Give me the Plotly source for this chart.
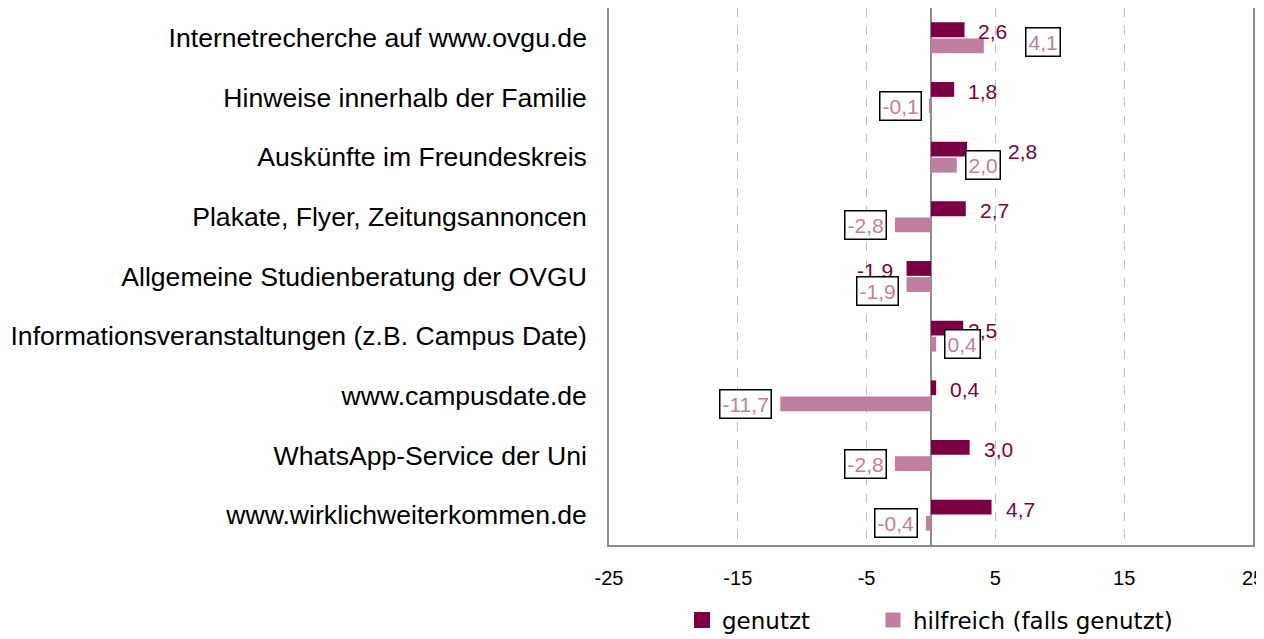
import plotly.graph_objects as go

categories = [
    "Internetrecherche auf www.ovgu.de",
    "Hinweise innerhalb der Familie",
    "Auskünfte im Freundeskreis",
    "Plakate, Flyer, Zeitungsannoncen",
    "Allgemeine Studienberatung der OVGU",
    "Informationsveranstaltungen (z.B. Campus Date)",
    "www.campusdate.de",
    "WhatsApp-Service der Uni",
    "www.wirklichweiterkommen.de",
]
genutzt = [2.6, 1.8, 2.8, 2.7, -1.9, 2.5, 0.4, 3.0, 4.7]
hilfreich = [4.1, -0.1, 2.0, -2.8, -1.9, 0.4, -11.7, -2.8, -0.4]
x_ticks = [-25, -15, -5, 5, 15, 25]
series_names = ["genutzt", "hilfreich (falls genutzt)"]

# label nudges in pixels (manual placement as in the original)
gen_label_extra = [0, 0, 27, 0, 0, -9, 0, 0, 0]
hil_label_extra = [33, 0, 0, 0, 0, 0, 0, 0, 0]
hil_label_yshift = [4, 0, 0, 0, -6, 0, 0, 0, 0]

C_GEN = "#7B0041"
C_HIL = "#BF7FA0"

BARGAP = 0.46
BARGROUPGAP = 0.08
off = (1 - BARGAP) / 4

def fmt(v):
    return f"{v:.1f}".replace(".", ",")

ypos = list(range(len(categories)))

fig = go.Figure()
fig.add_trace(go.Bar(y=ypos, x=genutzt, orientation="h", name=series_names[0],
                     marker=dict(color=C_GEN, line=dict(width=0)), showlegend=False))
fig.add_trace(go.Bar(y=ypos, x=hilfreich, orientation="h", name=series_names[1],
                     marker=dict(color=C_HIL, line=dict(width=0)), showlegend=False))
# legend swatches (square, like the original)
fig.add_trace(go.Scatter(x=[None], y=[None], mode="markers", name=series_names[0],
                         marker=dict(symbol="square", size=17, color=C_GEN),
                         legend="legend", hoverinfo="skip"))
fig.add_trace(go.Scatter(x=[None], y=[None], mode="markers", name=series_names[1],
                         marker=dict(symbol="square", size=15, color=C_HIL),
                         legend="legend2", hoverinfo="skip"))

annotations = []
for i, v in enumerate(genutzt):
    pos = v >= 0
    annotations.append(dict(
        x=v, y=i - off, xref="x", yref="y", text=fmt(v), showarrow=False,
        xanchor="left" if pos else "right",
        xshift=(12 + gen_label_extra[i]) if pos else -(12 + gen_label_extra[i]),
        yshift=-2,
        font=dict(family="Liberation Sans, Arial", size=21, color=C_GEN)))
for i, v in enumerate(hilfreich):
    pos = v >= 0
    annotations.append(dict(
        x=v, y=i + off, xref="x", yref="y", text=fmt(v), showarrow=False,
        xanchor="left" if pos else "right",
        xshift=(8 + hil_label_extra[i]) if pos else -(8 + hil_label_extra[i]),
        yshift=hil_label_yshift[i],
        bgcolor="white", bordercolor="black", borderwidth=1.5, borderpad=2,
        font=dict(family="Liberation Sans, Arial", size=21, color=C_HIL)))

legend_common = dict(orientation="h", yref="container", yanchor="middle", y=0.03,
                     xref="container", xanchor="left",
                     font=dict(family="DejaVu Sans", size=23, color="#000000"),
                     itemclick=False, bgcolor="rgba(0,0,0,0)")

# page body has an 8px margin: figure is sized so it sits like the original
fig.update_layout(
    width=1256, height=631,
    margin=dict(l=601, r=11, t=0, b=94),
    paper_bgcolor="white", plot_bgcolor="white",
    barmode="group", bargap=BARGAP, bargroupgap=BARGROUPGAP,
    annotations=annotations,
    showlegend=True,
    legend=dict(x=674 / 1256, **legend_common),
    legend2=dict(x=865 / 1256, **legend_common),
    xaxis=dict(range=[-25, 25], tickvals=x_ticks, ticktext=[str(t) for t in x_ticks],
               automargin=False, ticklabeloverflow="allow",
               showgrid=True, gridcolor="#BFBFBF", griddash="dash", gridwidth=1.3,
               zeroline=True, zerolinecolor="#8C8C8C", zerolinewidth=1.5,
               showline=True, linecolor="#8C8C8C", linewidth=1.5, mirror=True,
               ticks="outside", ticklen=0, ticklabelstandoff=14,
               tickfont=dict(family="Liberation Sans, Arial", size=20, color="#000000")),
    yaxis=dict(range=[len(categories) - 0.5, -0.5], tickvals=ypos, ticktext=categories,
               automargin=False, ticklabeloverflow="allow",
               showgrid=False, zeroline=False,
               showline=True, linecolor="#8C8C8C", linewidth=1.5, mirror=True,
               ticks="outside", ticklen=0, ticklabelstandoff=15,
               tickfont=dict(family="Liberation Sans, Arial", size=26.6, color="#000000")),
)

fig.write_html("out.html")
